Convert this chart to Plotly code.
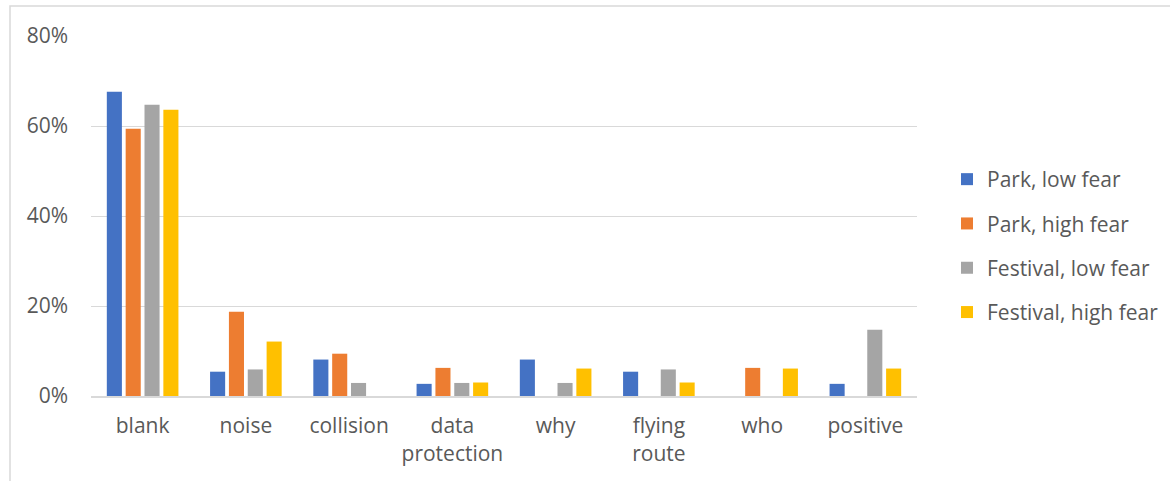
import plotly.graph_objects as go

categories = ["blank", "noise", "collision", "data<br>protection", "why", "flying<br>route", "who", "positive"]
series_names = ["Park, low fear", "Park, high fear", "Festival, low fear", "Festival, high fear"]
park_low = [0.676, 0.054, 0.081, 0.027, 0.081, 0.054, 0.0, 0.027]
park_high = [0.594, 0.1875, 0.094, 0.0625, 0.0, 0.0, 0.0625, 0.0]
fest_low = [0.647, 0.059, 0.029, 0.029, 0.029, 0.059, 0.0, 0.147]
fest_high = [0.636, 0.121, 0.0, 0.030, 0.061, 0.030, 0.061, 0.061]
colors = ["#4472C4", "#ED7D31", "#A5A5A5", "#FFC000"]
y_ticks = [0, 0.2, 0.4, 0.6, 0.8]

W, H = 1170, 481
L, R, T, B = 91, 253, 36, 85
FS = 21

fig = go.Figure()
for i, (name, vals) in enumerate(zip(series_names, [park_low, park_high, fest_low, fest_high])):
    fig.add_trace(go.Bar(x=categories, y=vals, name=name, marker_color=colors[i],
                         marker_line_width=0, legendgroup=name))

pw = W - L - R
ph = H - T - B
fig.update_layout(
    width=W, height=H,
    margin=dict(l=L, r=R, t=T, b=B, pad=0, autoexpand=False),
    paper_bgcolor="white", plot_bgcolor="white",
    barmode="group", bargap=0.27, bargroupgap=0.2,
    font=dict(family="Open Sans", size=FS, color="#595959"),
    xaxis=dict(showgrid=False, showline=True, linecolor="#D9D9D9", linewidth=2,
               ticks="", tickfont=dict(size=FS, color="#595959"), ticklabelstandoff=10),
    yaxis=dict(range=[0, 0.8], tickvals=y_ticks, tickformat=".0%", showgrid=True,
               gridcolor="#D9D9D9", gridwidth=1, zeroline=False, showline=False,
               ticks="", ticklabelstandoff=22, tickfont=dict(size=FS, color="#595959")),
    legend=dict(x=(947 - L) / pw, y=(396 - 159) / ph, xanchor="left", yanchor="top",
                font=dict(size=FS, color="#595959"), tracegroupgap=14,
                itemwidth=30, bgcolor="rgba(0,0,0,0)"),
    shapes=[dict(type="rect", xref="paper", yref="paper",
                 x0=(10 - L) / pw, x1=1.6, y0=-0.6, y1=(396 - 6) / ph,
                 line=dict(color="#D9D9D9", width=1.5), fillcolor="rgba(0,0,0,0)", layer="below")],
)

fig.write_html("out.html")
